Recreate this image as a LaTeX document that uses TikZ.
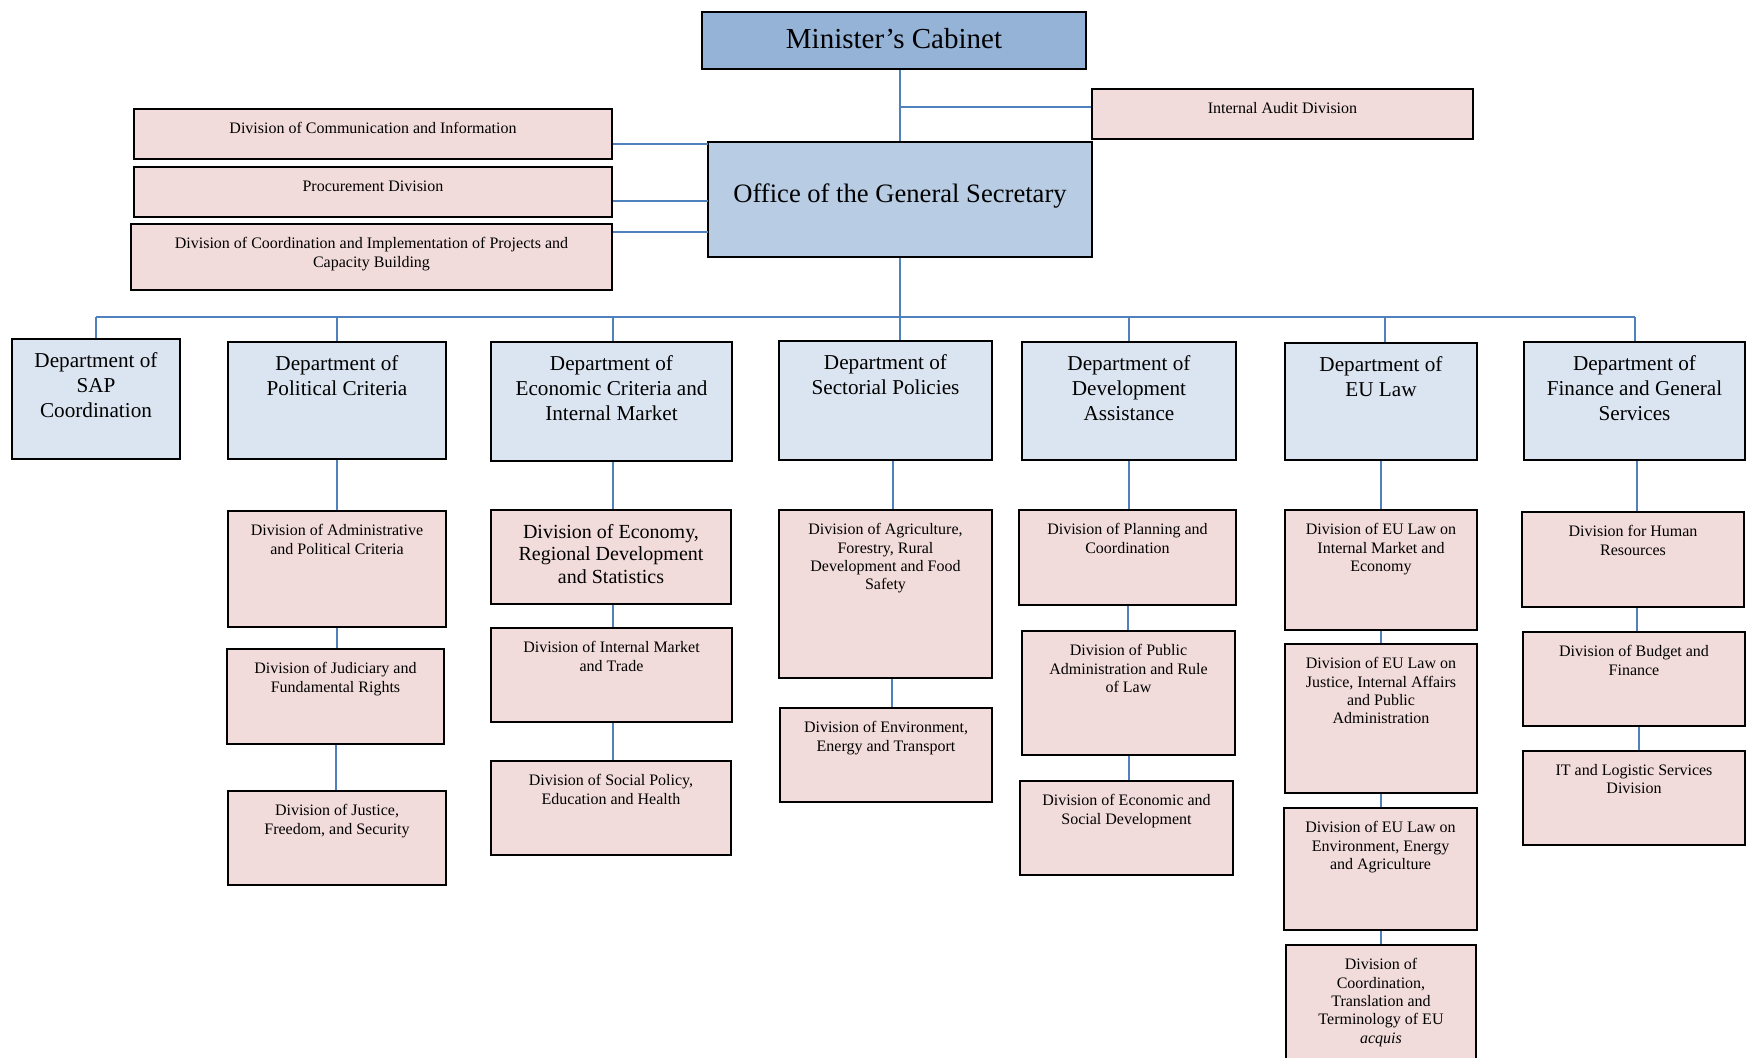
\documentclass[tikz,border=0pt]{standalone}
\usepackage{fontspec}
\setmainfont{Liberation Serif}
\definecolor{cabinetblue}{HTML}{95B3D7}
\definecolor{officeblue}{HTML}{B8CCE4}
\definecolor{deptblue}{HTML}{DBE5F1}
\definecolor{divpink}{HTML}{F2DCDB}
\definecolor{linkblue}{HTML}{4F81BD}
% box from corner (x1,y1) to (x2,y2), text set at the top
\newcommand{\orgbox}[8][6.7pt]{%
  \pgfmathsetlengthmacro\boxw{(#6-#4)*0.5}%
  \pgfmathsetlengthmacro\boxh{(#7-#5)*0.5}%
  \node[#2] (#3) at ({(#4+#6)/2},{(#5+#7)/2})
    {\parbox[c][\boxh][t]{\boxw}{\centering\vspace*{#1}#8\par}};}
\begin{document}
\begin{tikzpicture}[x=0.5pt,y=-0.5pt]
  \tikzstyle{every node}+=[inner sep=0pt]
  \tikzstyle{cabinet}=[draw=black, line width=0.8pt, fill=cabinetblue, font=\fontsize{14.5}{17}\selectfont]
  \tikzstyle{office}=[draw=black, line width=0.8pt, fill=officeblue, font=\fontsize{13.3}{16}\selectfont]
  \tikzstyle{dept}=[draw=black, line width=0.8pt, fill=deptblue, font=\fontsize{10.6}{12.3}\selectfont]
  \tikzstyle{division}=[draw=black, line width=0.8pt, fill=divpink, font=\fontsize{8}{9.2}\selectfont]
  \tikzstyle{bigdivision}=[division, font=\fontsize{10}{11.4}\selectfont]
  \tikzstyle{link}=[draw=linkblue, line width=1pt]
  \useasboundingbox (0,0) rectangle (1746,1057);
  % top
  \orgbox[8pt]{cabinet}{mc}{702}{12}{1086}{69}{Minister’s Cabinet}
  \orgbox{division}{audit}{1092}{89}{1473}{139}{Internal Audit Division}
  \orgbox{division}{comm}{134}{109}{612}{159}{Division of Communication and Information}
  \orgbox{division}{proc}{134}{167}{612}{217}{Procurement Division}
  \orgbox{division}{coord}{131}{224}{612}{290}{Division of Coordination and Implementation of Projects and\\Capacity Building}
  \orgbox[20.8pt]{office}{ogs}{708}{142}{1092}{257}{Office of the General Secretary}
  % departments
  \orgbox[7pt]{dept}{sap}{12}{339}{180}{459}{Department of\\SAP\\Coordination}
  \orgbox[7pt]{dept}{pol}{228}{342}{446}{459}{Department of\\Political Criteria}
  \orgbox[7pt]{dept}{eco}{491}{342}{732}{461}{Department of\\Economic Criteria and\\Internal Market}
  \orgbox[7pt]{dept}{sect}{779}{341}{992}{460}{Department of\\Sectorial Policies}
  \orgbox[7pt]{dept}{dev}{1022}{342}{1236}{460}{Department of\\Development\\Assistance}
  \orgbox[7pt]{dept}{eul}{1285}{343}{1477}{460}{Department of\\EU Law}
  \orgbox[7pt]{dept}{fin}{1524}{342}{1745}{460}{Department of\\Finance and General\\Services}
  % divisions
  \orgbox{division}{adm}{228}{511}{446}{627}{Division of Administrative\\and Political Criteria}
  \orgbox{division}{jud}{227}{649}{444}{744}{Division of Judiciary and\\Fundamental Rights}
  \orgbox{division}{jus}{228}{791}{446}{885}{Division of Justice,\\Freedom, and Security}
  \orgbox[7pt]{bigdivision}{econ}{491}{510}{731}{604}{Division of Economy,\\Regional Development\\and Statistics}
  \orgbox{division}{imt}{491}{628}{732}{722}{Division of Internal Market\\and Trade}
  \orgbox{division}{soc}{491}{761}{731}{855}{Division of Social Policy,\\Education and Health}
  \orgbox{division}{agri}{779}{510}{992}{678}{Division of Agriculture,\\Forestry, Rural\\Development and Food\\Safety}
  \orgbox{division}{env}{780}{708}{992}{802}{Division of Environment,\\Energy and Transport}
  \orgbox{division}{plan}{1019}{510}{1236}{605}{Division of Planning and\\Coordination}
  \orgbox{division}{pub}{1022}{631}{1235}{755}{Division of Public\\Administration and Rule\\of Law}
  \orgbox{division}{esd}{1020}{781}{1233}{875}{Division of Economic and\\Social Development}
  \orgbox{division}{eulim}{1285}{510}{1477}{630}{Division of EU Law on\\Internal Market and\\Economy}
  \orgbox{division}{euljus}{1285}{644}{1477}{793}{Division of EU Law on\\Justice, Internal Affairs\\and Public\\Administration}
  \orgbox{division}{eulenv}{1284}{808}{1477}{930}{Division of EU Law on\\Environment, Energy\\and Agriculture}
  \orgbox{division}{eulcoord}{1286}{945}{1476}{1075}{Division of\\Coordination,\\Translation and\\Terminology of EU\\\textit{acquis}}
  \orgbox{division}{hr}{1522}{512}{1744}{607}{Division for Human\\Resources}
  \orgbox{division}{budget}{1523}{632}{1745}{726}{Division of Budget and\\Finance}
  \orgbox{division}{itl}{1523}{751}{1745}{845}{IT and Logistic Services\\Division}
  % connectors
  \coordinate (auditj) at (900,107);
  \coordinate (commj) at (708,144);
  \coordinate (procj) at (708,201);
  \coordinate (coordj) at (708,232);
  \coordinate (bus) at (900,317);
  \draw[link] (mc.south -| ogs.north) -- (ogs.north);
  \draw[link] (auditj) -- (auditj -| audit.west);
  \draw[link] (commj) -- (commj -| comm.east);
  \draw[link] (procj) -- (procj -| proc.east);
  \draw[link] (coordj) -- (coordj -| coord.east);
  \draw[link] (ogs.south) -- (bus);
  \draw[link] (bus -| sap.north) -- (bus -| fin.north);
  \draw[link] (bus -| sap.north) -- (sap.north);
  \draw[link] (bus -| pol.north) -- (pol.north);
  \draw[link] ([xshift=0.8pt]bus -| eco.north) -- ([xshift=0.8pt]eco.north);
  \draw[link] (bus) -- (bus |- sect.north);
  \draw[link] (bus -| dev.north) -- (dev.north);
  \draw[link] ([xshift=2pt]bus -| eul.north) -- ([xshift=2pt]eul.north);
  \draw[link] (bus -| fin.north) -- (fin.north);
  \draw[link] (pol.south) -- (pol.south |- adm.north);
  \draw[link] (adm.south) -- (adm.south |- jud.north);
  \draw[link] (jud.south) -- (jud.south |- jus.north);
  \draw[link] ([xshift=0.8pt]eco.south) -- ([xshift=0.8pt]eco.south |- econ.north);
  \draw[link] ([xshift=0.8pt]econ.south) -- ([xshift=0.8pt]econ.south |- imt.north);
  \draw[link] ([xshift=0.8pt]imt.south) -- ([xshift=0.8pt]imt.south |- soc.north);
  \draw[link] ([xshift=3.5pt]sect.south) -- ([xshift=3.5pt]sect.south |- agri.north);
  \draw[link] ([xshift=3.3pt]agri.south) -- ([xshift=3.3pt]agri.south |- env.north);
  \draw[link] (dev.south) -- (dev.south |- plan.north);
  \draw[link] (plan.south) -- (plan.south |- pub.north);
  \draw[link] (pub.south) -- (pub.south |- esd.north);
  \draw[link] (eul.south) -- (eul.south |- eulim.north);
  \draw[link] (eulim.south) -- (eulim.south |- euljus.north);
  \draw[link] (euljus.south) -- (euljus.south |- eulenv.north);
  \draw[link] (eulenv.south) -- (eulenv.south |- eulcoord.north);
  \draw[link] ([xshift=1pt]fin.south) -- ([xshift=1pt]fin.south |- hr.north);
  \draw[link] ([xshift=2pt]hr.south) -- ([xshift=2pt]hr.south |- budget.north);
  \draw[link] ([xshift=2.3pt]budget.south) -- ([xshift=2.3pt]budget.south |- itl.north);
\end{tikzpicture}
\end{document}
